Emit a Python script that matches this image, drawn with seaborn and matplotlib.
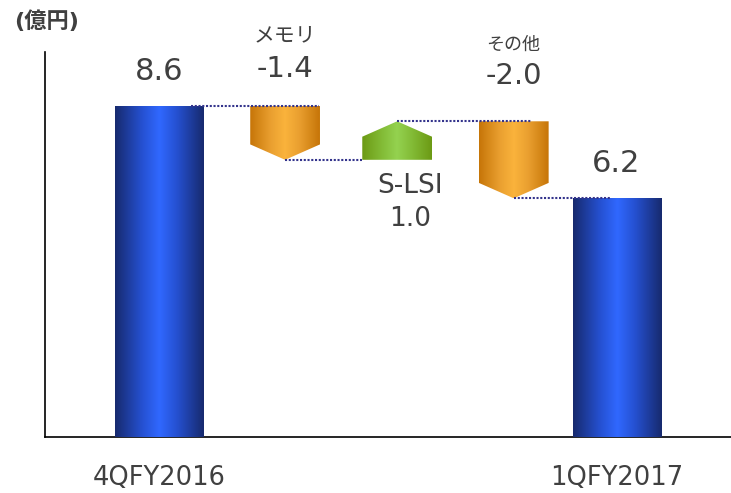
import numpy as np
import pandas as pd
import matplotlib
matplotlib.use("Agg")
import matplotlib.pyplot as plt
from matplotlib.colors import LinearSegmentedColormap
from matplotlib.patches import Polygon
import seaborn as sns

# ---- data ----
categories = ["4QFY2016", "メモリ", "S-LSI", "その他", "1QFY2017"]
values = [8.6, -1.4, 1.0, -2.0, 6.2]
kinds = ["total", "delta", "delta", "delta", "total"]
value_labels = ["8.6", "-1.4", "1.0", "-2.0", "6.2"]
tick_labels = ["4QFY2016", "", "", "", "1QFY2017"]
unit_label = "(億円)"

sns.set_theme(style="white")
plt.rcParams["font.family"] = ["DejaVu Sans", "Noto Sans CJK JP"]

TXT = "#404040"
fig = plt.figure(figsize=(7.31, 4.93), dpi=100)
ax = fig.add_axes([45 / 731, 1 - 437 / 493, 1 - 45 / 731, (437 - 52) / 493])

# totals via seaborn
tot_df = pd.DataFrame({"cat": [c for c, k in zip(categories, kinds) if k == "total"],
                       "val": [v for v, k in zip(values, kinds) if k == "total"]})
sns.barplot(data=tot_df, x="cat", y="val", order=categories, width=0.77,
            color="#2f66ff", ax=ax, zorder=2)

def grad_cmap(edge, mid, center):
    return LinearSegmentedColormap.from_list(
        "g", [(0, edge), (0.3, mid), (0.5, center), (0.7, mid), (1, edge)])

g = np.linspace(0, 1, 256).reshape(1, -1)
blue = grad_cmap("#172a6e", "#2550d0", "#3068ff")
orange = grad_cmap("#c67508", "#eaa030", "#fab33c")
green = grad_cmap("#6c9a14", "#84bd38", "#94d250")

def fill_gradient(patch, cmap, x0, x1, y0, y1):
    patch.set_facecolor("none")
    patch.set_edgecolor("none")
    im = ax.imshow(g, cmap=cmap, extent=(x0, x1, y0, y1), aspect="auto",
                   interpolation="bicubic", zorder=3)
    im.set_clip_path(patch)

for p in list(ax.patches):
    x0 = p.get_x(); w = p.get_width(); h = p.get_height()
    if h > 0:
        fill_gradient(p, blue, x0, x0 + w, 0, h)

# delta arrows
xpos = [0, 1.1, 2.08, 3.1, 4]
aw = 0.61
tip = 0.4
level = values[0]
levels = [level]
for i, (v, k) in enumerate(zip(values, kinds)):
    if k != "delta":
        continue
    start, end = level, level + v
    xc = xpos[i]
    xl, xr = xc - aw / 2, xc + aw / 2
    if v < 0:
        pts = [(xl, start), (xr, start), (xr, end + tip), (xc, end), (xl, end + tip)]
        cmap = orange
    else:
        pts = [(xl, start), (xr, start), (xr, end - tip), (xc, end), (xl, end - tip)]
        cmap = green
    poly = Polygon(pts, closed=True, transform=ax.transData)
    ax.add_patch(poly)
    fill_gradient(poly, cmap, xl, xr, min(start, end), max(start, end))
    level = end
    levels.append(level)

# connectors (dotted)
conn_x = [(0.28, 1.40), (1.1, 1.77), (2.08, 3.25), (3.1, 3.95)]
for (xa, xb), lv in zip(conn_x, levels):
    ax.plot([xa, xb], [lv, lv], linestyle=(0, (1.0, 0.8)), color="#34348c",
            lw=1.5, zorder=4)

ax.set_xlim(-1.0, 5.0)
ax.set_ylim(0, 10)
ax.set_yticks([])
ax.set_xticks(range(len(categories)))
ax.set_xticklabels(tick_labels, fontsize=18.5, color=TXT)
ax.tick_params(axis="x", length=0, pad=20)
ax.set_xlabel(""); ax.set_ylabel("")
for s in ["top", "right"]:
    ax.spines[s].set_visible(False)
for s in ["left", "bottom"]:
    ax.spines[s].set_color("black")
    ax.spines[s].set_linewidth(1.2)

def py(ypx):
    return (437 - ypx) / 38.5

def px(xpx):
    return (xpx - 159) / 114.3

kw = dict(ha="center", va="center", color=TXT, clip_on=False)
ax.text(px(159), py(71), value_labels[0], fontsize=22, **kw)
ax.text(px(285), py(35), categories[1], fontsize=15, **kw)
ax.text(px(285), py(69), value_labels[1], fontsize=21, **kw)
ax.text(px(410), py(186), categories[2], fontsize=19, **kw)
ax.text(px(410), py(219), value_labels[2], fontsize=19, **kw)
ax.text(px(513), py(45), categories[3], fontsize=13, **kw)
ax.text(px(513), py(76), value_labels[3], fontsize=21, **kw)
ax.text(px(616), py(164), value_labels[4], fontsize=22, **kw)

fig.text(47 / 731, 1 - 21 / 493, unit_label, fontsize=16, fontweight="bold",
         color=TXT, ha="center", va="center")

fig.savefig("out.png", dpi=100)
